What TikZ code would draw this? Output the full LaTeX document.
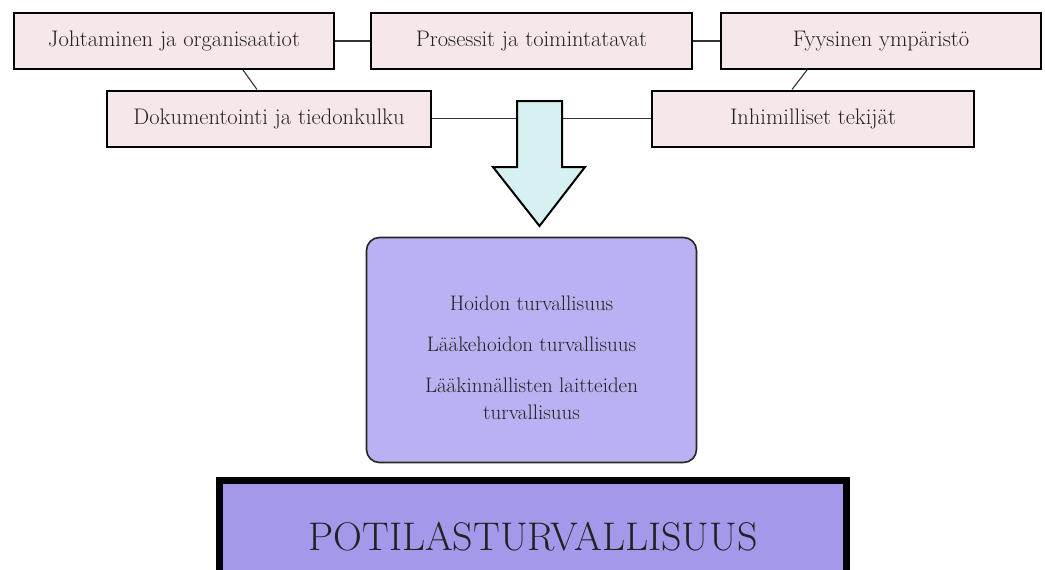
\documentclass[tikz,border=0pt]{standalone}
\usepackage{fontspec}
\usepackage{tikz}
\usetikzlibrary{positioning,calc}
\definecolor{factorfill}{HTML}{F6E7E8}
\definecolor{arrowfill}{HTML}{D6F1F1}
\definecolor{safetyfill}{HTML}{B9B1F1}
\definecolor{patientfill}{HTML}{A498EB}
\definecolor{linkgray}{HTML}{333333}
\definecolor{ink}{HTML}{222222}
\tikzset{
  factor/.style={draw=black, line width=2pt, fill=factorfill, minimum width=320pt, minimum height=56pt, inner sep=0pt, text=ink, font=\fontsize{22.5}{26}\selectfont},
  link/.style={draw=linkgray, line width=1.1pt}
}

\begin{document}
\begin{tikzpicture}[x=1pt, y=-1pt]
    \useasboundingbox[fill=white] (0,0) rectangle (1045,570);
    % contributing factors
    \node[factor] (johtaminen) at (174,41) {Johtaminen ja organisaatiot};
    \node[factor, minimum width=321pt] (prosessit) at (531.5,41) {Prosessit ja toimintatavat};
    \node[factor] (fyysinen) at (881,41) {Fyysinen ympäristö};
    \node[factor, minimum width=324pt] (dokumentointi) at (269,118.5) {Dokumentointi ja tiedonkulku};
    \node[factor, minimum width=322pt] (inhimilliset) at (813,118.5) {Inhimilliset tekijät};
    \draw[link] (johtaminen.east) -- (prosessit.west);
    \draw[link] (prosessit.east) -- (fyysinen.west);
    \draw[link] ([xshift=69pt]johtaminen.south) -- ([xshift=-12pt]dokumentointi.north);
    \draw[link] ([xshift=-74pt]fyysinen.south) -- ([xshift=-21pt]inhimilliset.north);
    \draw[link] (dokumentointi.east) -- (inhimilliset.west);
    % big arrow
    \draw[line width=2pt, fill=arrowfill] (517,101) -- (562,101) -- (562,167) -- (585,167)
      -- (539.5,226) -- (493,167) -- (517,167) -- cycle;
    % safety areas
    \node[draw=black!85, line width=1.6pt, fill=safetyfill, rounded corners=13pt,
      minimum width=330pt, minimum height=225pt, align=center, text=ink,
      font=\fontsize{21}{27}\selectfont] (alueet) at (531.5,350)
      {\rule{0pt}{31pt}Hoidon turvallisuus\\[14pt]Lääkehoidon turvallisuus\\[14pt]Lääkinnällisten laitteiden\\turvallisuus};
    \node[draw=black, line width=7pt, fill=patientfill, minimum width=627pt, minimum height=113pt,
      text=ink, font=\fontsize{40}{44}\selectfont] (potilas) at (533,537) {POTILASTURVALLISUUS};
\end{tikzpicture}
\end{document}
